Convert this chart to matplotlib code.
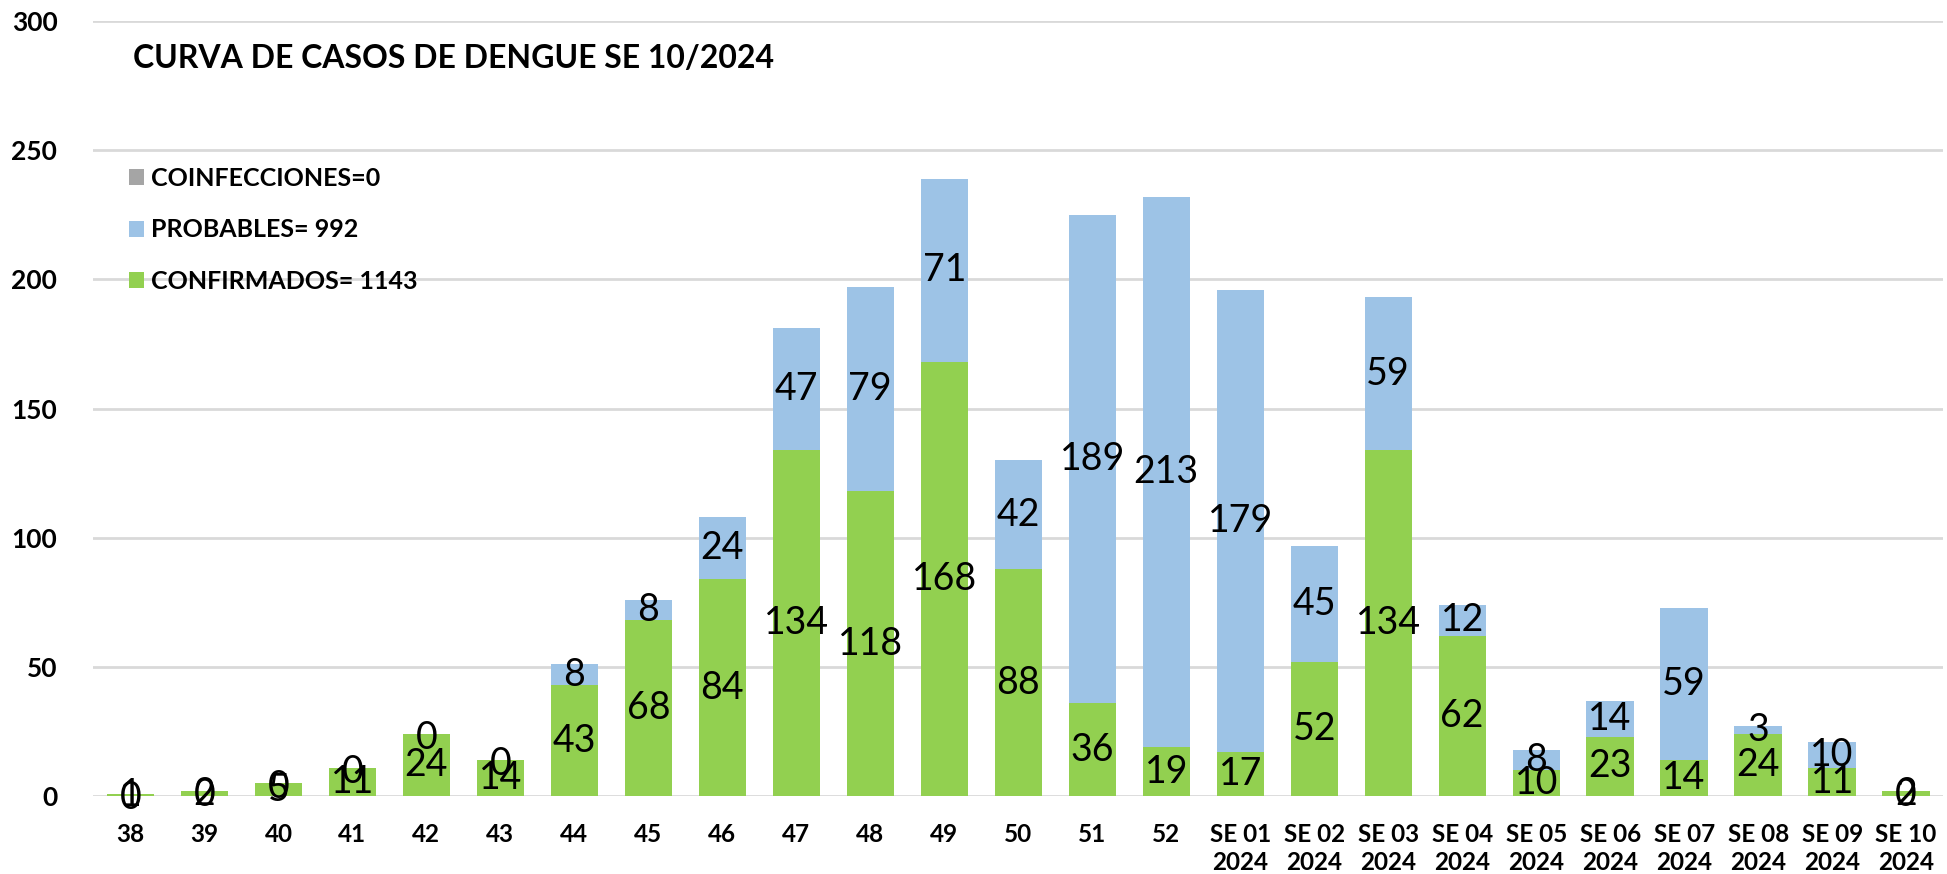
import matplotlib.pyplot as plt
import numpy as np

plt.rcParams['font.family'] = ['Lato', 'DejaVu Sans']

semanas = ['38', '39', '40', '41', '42', '43', '44', '45', '46', '47', '48', '49',
           '50', '51', '52', 'SE 01\n2024', 'SE 02\n2024', 'SE 03\n2024', 'SE 04\n2024',
           'SE 05\n2024', 'SE 06\n2024', 'SE 07\n2024', 'SE 08\n2024', 'SE 09\n2024',
           'SE 10\n2024']
confirmados = [1, 2, 5, 11, 24, 14, 43, 68, 84, 134, 118, 168, 88, 36, 19,
               17, 52, 134, 62, 10, 23, 14, 24, 11, 2]
probables = [0, 0, 0, 0, 0, 0, 8, 8, 24, 47, 79, 71, 42, 189, 213,
             179, 45, 59, 12, 8, 14, 59, 3, 10, 0]
coinfecciones = [0] * len(semanas)

C_CONF = '#92D050'
C_PROB = '#9DC3E6'
C_COIN = '#A5A5A5'

fig = plt.figure(figsize=(19.47, 8.74), dpi=100)
ax = fig.add_axes([0.048, 0.089, 0.95, 0.887])

x = np.arange(len(semanas))
conf = np.array(confirmados)
prob = np.array(probables)
coin = np.array(coinfecciones)
w = 0.64

b1 = ax.bar(x, conf, w, color=C_CONF, zorder=2)
b2 = ax.bar(x, prob, w, bottom=conf, color=C_PROB, zorder=2)
b3 = ax.bar(x, coin, w, bottom=conf + prob, color=C_COIN, zorder=2)

# etiquetas centradas en cada segmento (estilo Excel)
lab = dict(ha='center', va='center', fontsize=27, color='black', zorder=4)
for i in range(len(x)):
    ax.text(x[i], conf[i] / 2, str(conf[i]), **lab)
    yp = conf[i] + prob[i] / 2 if prob[i] > 0 else conf[i] - 1.5
    ax.text(x[i], yp, str(prob[i]), **lab)

ax.set_xlim(-0.5, len(x) - 0.5)
ax.set_ylim(0, 300)
ax.set_yticks(np.arange(0, 301, 50))
ax.set_xticks(x)
ax.set_xticklabels(semanas, fontsize=17.5, fontweight='bold', linespacing=1.3)
for t in ax.get_yticklabels():
    t.set_fontsize(19)
    t.set_fontweight('bold')
ax.tick_params(axis='both', length=0)
ax.tick_params(axis='y', pad=26)
ax.tick_params(axis='x', pad=19)
ax.grid(axis='y', color='#D9D9D9', linewidth=2, zorder=0)
ax.set_axisbelow(True)
for s in ax.spines.values():
    s.set_visible(False)

ax.text(0.0216, 0.951, 'CURVA DE CASOS DE DENGUE SE 10/2024', transform=ax.transAxes,
        fontsize=23, fontweight='bold', va='center', ha='left')

leg = ax.legend([b3, b2, b1],
                ['COINFECCIONES=0', 'PROBABLES= 992', 'CONFIRMADOS= 1143'],
                loc='upper left', bbox_to_anchor=(0.019, 0.812), frameon=False,
                borderaxespad=0, borderpad=0,
                prop={'size': 18, 'weight': 'bold'}, handlelength=0.6,
                handleheight=0.6, handletextpad=0.3, labelspacing=1.15)

fig.savefig('out.png', dpi=100)
